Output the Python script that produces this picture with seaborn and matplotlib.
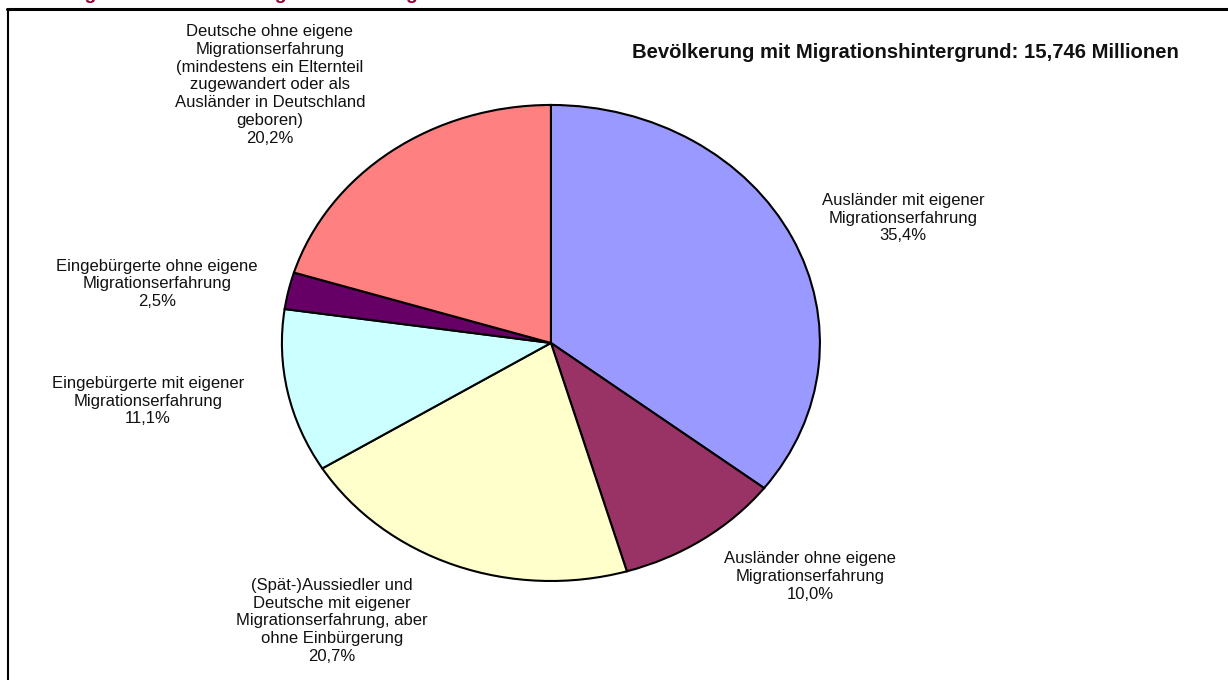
import matplotlib
matplotlib.use("Agg")
import matplotlib.pyplot as plt
import seaborn as sns
from matplotlib.lines import Line2D

# Daten
categories = [
    "Ausländer mit eigener\nMigrationserfahrung",
    "Ausländer ohne eigene\nMigrationserfahrung",
    "(Spät-)Aussiedler und\nDeutsche mit eigener\nMigrationserfahrung, aber\nohne Einbürgerung",
    "Eingebürgerte mit eigener\nMigrationserfahrung",
    "Eingebürgerte ohne eigene\nMigrationserfahrung",
    "Deutsche ohne eigene\nMigrationserfahrung\n(mindestens ein Elternteil\nzugewandert oder als\nAusländer in Deutschland\ngeboren)",
]
shares = [35.4, 10.0, 20.7, 11.1, 2.5, 20.2]
colors = ["#9999FF", "#993366", "#FFFFCC", "#CCFFFF", "#660066", "#FF8080"]

# Position der Beschriftungen (in Kreis-Einheiten)
label_pos = [(1.31, 0.525), (0.963, -0.98), (-0.814, -1.168),
             (-1.498, -0.244), (-1.465, 0.248), (-1.045, 1.084)]

sns.set_style("white")
plt.rcParams['font.family'] = ['Liberation Sans', 'DejaVu Sans']

fig = plt.figure(figsize=(12.28, 6.8), dpi=100)
ax = fig.add_axes([0, 0, 1, 1])

wedges, texts = ax.pie(shares, labels=categories, colors=colors, startangle=90,
                       counterclock=False,
                       wedgeprops={"edgecolor": "black", "linewidth": 1.5})

# Beschriftungen mit Prozentwert
for t, cat, val, pos in zip(texts, categories, shares, label_pos):
    t.set_text(f"{cat}\n{val:.1f}%".replace(".", ","))
    t.set_position(pos)
    t.set_ha("center")
    t.set_va("center")
    t.set_fontsize(12)
    t.set_color("#111111")
    t.set_linespacing(1.24)

# elliptische Darstellung wie im Original
ax.set_aspect("auto")
ax.set_xlim(-2.048, 2.517)
ax.set_ylim(-1.416, 1.441)
ax.axis("off")

ax.text(0.515, 0.923, "Bevölkerung mit Migrationshintergrund: 15,746 Millionen",
        transform=ax.transAxes, fontsize=14.6, fontweight="bold", ha="left", va="center",
        color="#111111")

# abgeschnittene Überschrift (nur Unterlängen sichtbar) und Rahmen
fig.text(0.0, 1 + 1.0 / 680, "Abbildung 1: Personen mit Migrationshintergrund in Deutschland 2005",
         fontsize=14, fontweight="bold", color="#990033", ha="left", va="baseline")
fig.add_artist(Line2D([7 / 1228, 1.0], [1 - 8.5 / 680, 1 - 8.5 / 680],
                      transform=fig.transFigure, color="black", linewidth=2.2))
fig.add_artist(Line2D([8 / 1228, 8 / 1228], [0.0, 1 - 8.5 / 680],
                      transform=fig.transFigure, color="black", linewidth=1.5))

fig.savefig("out.png", dpi=100, facecolor="white")
